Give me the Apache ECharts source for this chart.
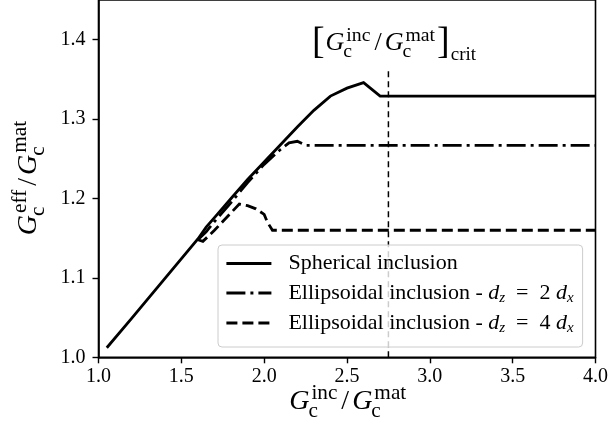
<!DOCTYPE html>
<html><head><meta charset="utf-8">
<script src="https://cdn.jsdelivr.net/npm/echarts@6/dist/echarts.min.js"></script>
<style>html,body{margin:0;padding:0;background:#fff}#c{width:611px;height:427px}</style>
</head><body><div id="c"></div>
<script>
// ---- data ----
const sphX = [1.05, 1.2, 1.4, 1.6, 1.65, 1.7, 1.8, 1.9, 2.0, 2.1, 2.2, 2.3, 2.4, 2.5, 2.6, 2.7, 4.0];
const sphY = [1.012, 1.049, 1.099, 1.149, 1.164, 1.176, 1.200, 1.224, 1.246, 1.268, 1.290, 1.311, 1.329, 1.339, 1.346, 1.329, 1.329];
const ell2X = [1.6, 1.65, 1.7, 1.8, 1.9, 2.0, 2.1, 2.15, 2.2, 2.25, 4.0];
const ell2Y = [1.148, 1.158, 1.171, 1.195, 1.220, 1.243, 1.262, 1.270, 1.272, 1.267, 1.267];
const ell4X = [1.6, 1.63, 1.7, 1.8, 1.85, 1.9, 1.95, 2.0, 2.02, 2.05, 4.0];
const ell4Y = [1.148, 1.146, 1.160, 1.182, 1.193, 1.191, 1.187, 1.180, 1.170, 1.160, 1.160];
const critX = [2.75, 2.75];
const critY = [1.0, 1.362];
const seriesNames = ['Spherical inclusion', 'Ellipsoidal inclusion - dz=2dx', 'Ellipsoidal inclusion - dz=4dx'];
const legendLabels = [
  'Spherical inclusion',
  'Ellipsoidal inclusion - {i|d}{sub|z}  =  2 {i|d}{sub|x}',
  'Ellipsoidal inclusion - {i|d}{sub|z}  =  4 {i|d}{sub|x}'
];
const xTickMin = 1.0, xTickMax = 4.0, xTickStep = 0.5;
const yTickMin = 1.0, yTickMax = 1.45, yTickStep = 0.1;

// ---- helpers ----
const FONT = '"Liberation Serif", "Times New Roman", serif';
const zip = (xs, ys) => xs.map((x, i) => [x, ys[i]]);
const mctx = document.createElement('canvas').getContext('2d');
function tw(t, s, it) { mctx.font = (it ? 'italic ' : '') + s + 'px ' + FONT; return mctx.measureText(t).width; }
function mathGroup(tokens, cx, cy, rot) {
  let x = 0, pend = 0; const els = [];
  for (const tk of tokens) {
    x += (tk.k || 0);
    const wd = tw(tk.t, tk.s, tk.i);
    els.push({
      type: 'text', x: x + (tk.ox || 0), y: (tk.dy || 0) - 0.34 * tk.s,
      style: { text: tk.t, fontFamily: FONT, fontSize: tk.s, fontStyle: tk.i ? 'italic' : 'normal',
               fill: '#000', align: 'left', verticalAlign: 'middle', textAlign: 'left', textVerticalAlign: 'middle' }
    });
    if (tk.stack) { pend = wd + (tk.ox || 0); } else { x += Math.max(wd + (tk.ox || 0), pend); pend = 0; }
  }
  const W = x; els.forEach(e => { e.x -= W / 2; });
  return { type: 'group', x: cx, y: cy, rotation: rot || 0, children: els, silent: true, z: 100 };
}
function gc(sup, s) {
  return [
    { t: 'G', s: s, i: true },
    { t: sup, s: s * 0.76, dy: -s * 0.36, ox: 2, stack: true },
    { t: 'c', s: s * 0.76, dy: s * 0.27, ox: -1 }
  ];
}
const slash = (s) => ({ t: '/', s: s, k: 4 });
const xTitle = [...gc('inc', 28), slash(28), { t: '', s: 28, k: 3 }, ...gc('mat', 28)];
const yTitle = [...gc('eff', 28), slash(28), { t: '', s: 28, k: 3 }, ...gc('mat', 28)];
const ann = [{ t: '[', s: 38, dy: 4 }, { t: '', s: 27, k: 1 }, ...gc('inc', 26), slash(26), { t: '', s: 26, k: 3 }, ...gc('mat', 26),
             { t: ']', s: 38, dy: 4, k: 2 }, { t: 'crit', s: 19, dy: 9, k: 1 }];

const tickFmt = (step) => (v) => {
  const r = Math.round(v / step);
  return Math.abs(v / step - r) < 1e-6 ? v.toFixed(1) : '';
};

const lineSeries = (name, data, type) => ({
  name, type: 'line', data, symbol: 'none', showSymbol: false, silent: true, animation: false,
  lineStyle: { color: '#000', width: 2.8, type: type, cap: 'butt', join: 'miter' },
  itemStyle: { color: '#000' }, z: 3
});

const chart = echarts.init(document.getElementById('c'), null, { renderer: 'canvas' });
chart.setOption({
  backgroundColor: '#fff',
  animation: false,
  grid: { left: 98.5, right: 14, top: -1.6, bottom: 69.7, show: true, borderColor: '#000', borderWidth: 1.6, backgroundColor: 'transparent' },
  xAxis: {
    type: 'value', min: xTickMin, max: xTickMax, interval: xTickStep,
    axisLine: { show: true, onZero: false, lineStyle: { color: '#000', width: 1.6 } },
    axisTick: { show: true, length: 6, lineStyle: { color: '#000', width: 1.4 } },
    axisLabel: { color: '#000', fontFamily: FONT, fontSize: 20, margin: 9, formatter: tickFmt(xTickStep) },
    splitLine: { show: false }
  },
  yAxis: {
    type: 'value', min: yTickMin, max: yTickMax, interval: yTickStep,
    axisLine: { show: true, onZero: false, lineStyle: { color: '#000', width: 1.6 } },
    axisTick: { show: true, length: 6, lineStyle: { color: '#000', width: 1.4 } },
    axisLabel: { color: '#000', fontFamily: FONT, fontSize: 20, margin: 13, showMaxLabel: false, formatter: tickFmt(yTickStep) },
    splitLine: { show: false }
  },
  legend: {
    data: seriesNames, orient: 'vertical', left: 218, top: 245,
    itemWidth: 45, itemHeight: 14, itemGap: 4, padding: [6, 9, 11, 7],
    backgroundColor: 'rgba(255,255,255,0.8)', borderColor: '#cccccc', borderWidth: 1, borderRadius: 4,
    lineStyle: { width: 2.8 },
    itemStyle: { color: 'transparent', borderWidth: 0, opacity: 0 },
    selectedMode: false,
    formatter: (n) => legendLabels[seriesNames.indexOf(n)],
    textStyle: {
      fontFamily: FONT, fontSize: 22, color: '#000', lineHeight: 25, padding: [0, 0, 0, 12],
      rich: {
        i: { fontFamily: FONT, fontSize: 22, fontStyle: 'italic', color: '#000', lineHeight: 25 },
        sub: { fontFamily: FONT, fontSize: 15, fontStyle: 'italic', color: '#000', lineHeight: 13, padding: [11, 0, 0, 0] }
      }
    }
  },
  series: [
    lineSeries(seriesNames[0], zip(sphX, sphY), 'solid'),
    lineSeries(seriesNames[1], zip(ell2X, ell2Y), [19, 5, 3, 5]),
    lineSeries(seriesNames[2], zip(ell4X, ell4Y), [11, 5]),
    {
      name: 'crit', type: 'line', data: zip(critX, critY), symbol: 'none', silent: true,
      lineStyle: { color: '#000', width: 1.5, type: [6, 4] }, z: 2
    }
  ],
  graphic: [
    mathGroup(xTitle, 347.7, 411, 0),
    mathGroup(yTitle, 38, 178, Math.PI / 2),
    mathGroup(ann, 394, 52, 0)
  ]
});
</script></body></html>
